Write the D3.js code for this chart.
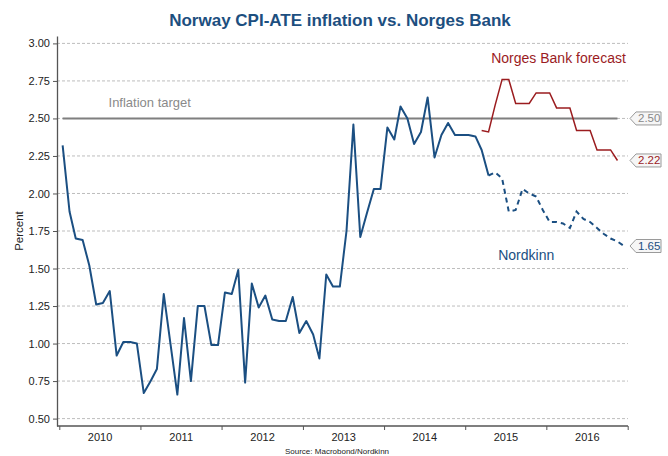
<!DOCTYPE html>
<html lang="en">
<head>
<meta charset="UTF-8">
<script src="https://d3js.org/d3.v7.min.js"></script>
<title>Norway CPI-ATE</title>
<style>
  body { margin: 0; background: #fff; }
  svg text { font-family: "Liberation Sans", Arial, sans-serif; }
</style>
</head>
<body>
<div id="chart"></div>
<script>
// monthly CPI-ATE, Jan 2010 - Apr 2015
var actual = [
  2.32, 1.88, 1.70, 1.69, 1.52, 1.26, 1.27, 1.35, 0.92, 1.01, 1.01, 1.00,
  0.67, 0.75, 0.83, 1.33, 1.00, 0.66, 1.17, 0.75, 1.25, 1.25, 0.99, 0.99,
  1.34, 1.33, 1.49, 0.74, 1.40, 1.24, 1.32, 1.16, 1.15, 1.15, 1.31, 1.07,
  1.15, 1.06, 0.90, 1.46, 1.38, 1.38, 1.75, 2.46, 1.71, 1.87, 2.03, 2.03,
  2.44, 2.36, 2.58, 2.50, 2.33, 2.41, 2.64, 2.24, 2.39, 2.47, 2.39, 2.39,
  2.39, 2.38, 2.29, 2.12
];
// Nordkinn forecast, Apr 2015 - Dec 2016
var nordkinn = [
  2.12, 2.14, 2.10, 1.88, 1.89, 2.03, 2.00, 1.98, 1.89,
  1.81, 1.81, 1.80, 1.77, 1.88, 1.83, 1.81, 1.77, 1.73, 1.70, 1.68, 1.65
];
// Norges Bank forecast, Mar 2015 - Nov 2016
var norgesBank = [
  2.42, 2.41, 2.59, 2.76, 2.76, 2.60, 2.60, 2.60, 2.67, 2.67,
  2.67, 2.57, 2.57, 2.57, 2.42, 2.42, 2.42, 2.29, 2.29, 2.29, 2.22
];
var target = 2.5;
var years = [2010, 2011, 2012, 2013, 2014, 2015, 2016];
var yTicks = [0.50, 0.75, 1.00, 1.25, 1.50, 1.75, 2.00, 2.25, 2.50, 2.75, 3.00];

var blue = "#1b4f82", red = "#9b1c1f", grey = "#7f7f7f";

function month(i) { return new Date(2010, i, 16); }

var actualPts = actual.map((v, i) => ({d: month(i), v: v}));
var nordkinnPts = nordkinn.map((v, i) => ({d: month(63 + i), v: v}));
var nbPts = norgesBank.map((v, i) => ({d: month(62 + i), v: v}));
var targetPts = [{d: month(0), v: target}, {d: month(82), v: target}];

var W = 668, H = 456;
var svg = d3.select("#chart").append("svg").attr("width", W).attr("height", H);

var x = d3.scaleTime().domain([new Date(2010, 0, 1), new Date(2017, 0, 1)]).range([59.3, 627.7]);
var y = d3.scaleLinear().domain([0.45, 3.05]).range([426.1, 35.9]);

// gridlines
svg.append("g").selectAll("line").data(yTicks).enter().append("line")
  .attr("x1", 57).attr("x2", 628)
  .attr("y1", d => y(d)).attr("y2", d => y(d))
  .attr("stroke", "#bdbdbd").attr("stroke-dasharray", "3,2");

// axes
var yAxis = svg.append("g").attr("transform", "translate(57,0)")
  .call(d3.axisLeft(y).tickValues(yTicks).tickFormat(d3.format(".2f")).tickSize(4).tickPadding(3).tickSizeOuter(0));
yAxis.select(".domain").attr("stroke", "#555").attr("stroke-width", 1.3);

var xAxis = svg.append("g").attr("transform", "translate(0,426)")
  .call(d3.axisBottom(x).tickValues(years.concat([2017]).map(v => new Date(v, 0, 1))).tickFormat("").tickSize(4).tickSizeOuter(0));
xAxis.select(".domain").remove();
svg.append("line").attr("x1", 57).attr("x2", 628).attr("y1", 426).attr("y2", 426)
  .attr("stroke", "#555").attr("stroke-width", 1.3);

svg.append("g").attr("transform", "translate(0,429)")
  .call(d3.axisBottom(x).tickValues(years.map(v => new Date(v, 6, 1))).tickFormat(d3.timeFormat("%Y")).tickSize(0).tickPadding(4))
  .select(".domain").remove();

svg.selectAll(".tick text").attr("font-size", 11).attr("fill", "#222")
  .style("font-family", "'Liberation Sans', Arial, sans-serif");
svg.selectAll(".tick line").attr("stroke", "#555");

var line = d3.line().x(d => x(d.d)).y(d => y(d.v));

// target
svg.append("path").datum(targetPts).attr("d", line)
  .attr("fill", "none").attr("stroke", grey).attr("stroke-width", 2);

svg.append("path").datum(actualPts).attr("d", line)
  .attr("fill", "none").attr("stroke", blue).attr("stroke-width", 2).attr("stroke-linejoin", "round");

svg.append("path").datum(nordkinnPts).attr("d", line)
  .attr("fill", "none").attr("stroke", blue).attr("stroke-width", 2).attr("stroke-dasharray", "5,4");

svg.append("path").datum(nbPts).attr("d", line)
  .attr("fill", "none").attr("stroke", red).attr("stroke-width", 1.5);

// end labels
var ends = [
  {v: target, c: "#888"},
  {v: norgesBank[norgesBank.length - 1], c: red},
  {v: nordkinn[nordkinn.length - 1], c: blue}
];
var lab = svg.append("g").selectAll("g").data(ends).enter().append("g")
  .attr("transform", d => "translate(630," + y(d.v) + ")");
lab.append("path").attr("d", "M0,0L6,-6.5L31,-6.5L31,6.5L6,6.5Z")
  .attr("fill", "#f6f6f6").attr("stroke", "#9a9a9a").attr("stroke-width", 1);
lab.append("text").attr("x", 8).attr("y", 4).attr("font-size", 11.5)
  .attr("fill", d => d.c).text(d => d3.format(".2f")(d.v));

// annotations
svg.append("text").attr("x", x(new Date(2010, 6, 1)) + 9).attr("y", y(target) - 11)
  .attr("font-size", 13).attr("fill", "#8a8a8a").text("Inflation target");
svg.append("text").attr("x", x(new Date(2015, 0, 1)) + 26).attr("y", y(2.87))
  .attr("font-size", 14).attr("fill", red).text("Norges Bank forecast");
svg.append("text").attr("x", x(new Date(2015, 0, 1)) + 33).attr("y", y(1.56))
  .attr("font-size", 14).attr("fill", blue).text("Nordkinn");

// title, y label, source
svg.append("text").attr("x", 340).attr("y", 26).attr("text-anchor", "middle")
  .attr("font-size", 17).attr("font-weight", "bold").attr("fill", "#1d4f7f")
  .text("Norway CPI-ATE inflation vs. Norges Bank");
svg.append("text").attr("transform", "translate(23," + y(1.75) + ") rotate(-90)")
  .attr("text-anchor", "middle").attr("font-size", 11.5).attr("fill", "#222").text("Percent");
svg.append("text").attr("x", 337).attr("y", 454).attr("text-anchor", "middle")
  .attr("font-size", 8).attr("fill", "#222").text("Source: Macrobond/Nordkinn");
</script>
</body>
</html>
